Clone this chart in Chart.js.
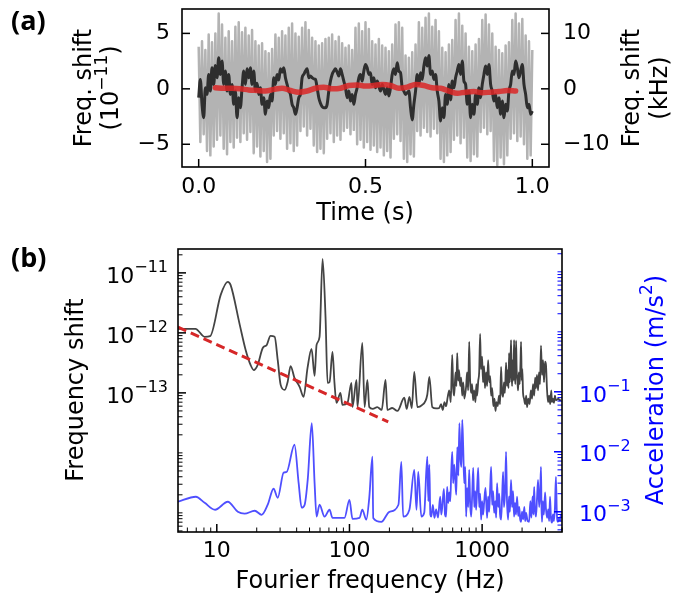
<!DOCTYPE html>
<html>
<head>
<meta charset="utf-8">
<script src="https://cdn.jsdelivr.net/npm/chart.js@4.4.1/dist/chart.umd.min.js"></script>
<style>
  body { margin: 0; background: #fff; }
  #wrap { position: relative; width: 684px; height: 599px; }
  canvas { position: absolute; left: 0; }
</style>
</head>
<body>
<div id="wrap">
  <canvas id="timeChart" width="684" height="230" style="top:0"></canvas>
  <canvas id="specChart" width="684" height="369" style="top:230px"></canvas>
</div>
<script>
// ---- panel (a): frequency shift vs time ----
const timeStep = 0.005; // s between samples of the raw and smoothed traces

// raw beat signal (10^-11), one sample every timeStep
const rawShift = [
  3.8, -4.8, 4.3, -4.1, 3.5, -5.6, 4.9, -6.0, 4.2, -5.2,
  5.0, -4.6, 6.8, -4.2, 5.8, -5.4, 4.6, -5.9, 5.2, -4.8,
  4.3, -5.3, 5.6, -4.4, 6.0, -4.8, 5.1, -4.0, 5.5, -4.6,
  4.8, -3.9, 5.3, -5.8, 4.3, -5.2, 3.9, -6.1, 4.1, -5.6,
  3.4, -6.6, 3.2, -6.3, 3.6, -4.2, 4.9, -3.8, 4.6, -4.5,
  5.2, -4.0, 4.8, -5.4, 5.5, -4.9, 5.9, -5.6, 5.0, -5.1,
  4.7, -3.8, 5.5, -3.4, 6.0, -4.2, 5.3, -3.6, 4.6, -5.1,
  4.3, -5.7, 3.9, -5.4, 4.1, -5.8, 4.5, -4.5, 4.6, -4.0,
  4.9, -4.8, 4.3, -4.2, 4.7, -4.6, 4.1, -3.8, 3.7, -3.5,
  3.9, -4.1, 3.5, -3.7, 5.5, -5.0, 5.9, -4.6, 5.2, -5.3,
  6.0, -4.8, 5.4, -5.5, 4.3, -5.1, 4.0, -5.7, 4.5, -5.3,
  3.9, -6.0, 3.7, -5.6, 3.4, -6.2, 4.0, -4.5, 5.8, -4.1,
  6.0, -4.7, 5.5, -6.3, 3.0, -6.6, 2.8, -5.9, 3.3, -6.1,
  4.0, -3.8, 6.0, -4.2, 5.5, -3.5, 6.4, -3.9, 6.8, -4.3,
  5.6, -3.6, 6.2, -4.0, 5.2, -6.3, 3.7, -6.6, 3.3, -6.0,
  4.0, -5.7, 4.4, -4.6, 6.2, -4.2, 6.8, -4.9, 5.7, -4.4,
  5.0, -6.2, 3.8, -6.5, 3.4, -5.9, 4.0, -6.1, 4.5, -3.9,
  6.2, -3.5, 6.7, -4.1, 5.8, -3.8, 5.0, -6.5, 3.8, -6.9,
  3.5, -6.2, 3.2, -6.8, 3.9, -6.0, 4.2, -4.5, 6.2, -4.0,
  6.8, -4.7, 5.9, -4.3, 6.3, -5.0, 4.8, -6.3, 4.3, -6.0,
  3.5
];

// low-pass filtered trace (10^-11), same time grid
const smoothShift = [
  -0.8, 0.85, -1.4, -2.6, 0.1, -0.5, 1.3, -0.2, 1.9, 0.4,
  2.1, 1.0, 2.8, 1.3, 2.5, 0.4, 1.6, -0.2, 1.3, -0.5,
  0.4, -1.4, -0.2, -2.6, -0.8, -1.7, 0.1, 1.6, 0.4, 1.8,
  1.0, 1.9, 0.4, 1.6, -0.2, 0.5, -0.5, 0.1, -1.4, -0.8,
  -2.3, -1.1, -1.7, -0.5, -1.1, 1.0, 0.4, 1.3, 0.8, 1.8,
  1.5, 1.9, 1.0, 0.4, -0.2, -0.5, -1.4, -1.7, -2.3, -1.7,
  -0.8, -0.5, 1.0, 1.3, 1.6, 1.8, 1.0, 1.15, 1.0, 0.9,
  0.85, 0.1, -0.8, -1.3, -1.6, -1.7, -1.7, -1.4, -0.2, 0.7,
  1.3, 1.6, 1.8, 1.5, 1.15, 1.8, 1.3, 0.7, 0.1, -0.8,
  -0.2, -1.1, -0.5, -1.4, -0.5, 0.1, 1.0, 1.3, 0.7, 1.6,
  2.2, 1.9, 1.3, 1.45, 0.4, 1.0, 0.1, 0.7, 0.25, -0.2,
  0.4, -0.05, -0.5, 0.1, -0.65, 0.1, 1.3, 1.8, 1.3, 2.35,
  1.6, 1.45, 0.1, -0.2, -0.5, -0.35, -0.2, -1.7, -2.8, -1.4,
  -0.2, 1.3, 0.4, 1.45, 0.85, 2.05, 2.8, 2.05, 3.0, 1.3,
  1.6, 0.85, 1.3, -0.2, -1.1, -2.9, -1.7, -2.6, -0.5, -1.4,
  0.4, -1.0, 0.7, 0.1, 1.0, 1.6, 2.2, 1.3, 2.5, 0.7,
  0.4, -1.4, -0.2, -2.6, -1.4, -2.3, -0.5, -1.4, 0.1, -0.8,
  0.4, 1.3, 2.05, 1.3, 2.2, 0.4, -0.2, -1.1, -0.5, -1.7,
  -0.8, -2.3, -1.1, -2.6, -1.4, -2.0, -0.2, 0.4, 1.6, 1.3,
  2.5, 1.9, 1.0, 1.6, 2.2, 0.4, -0.5, -1.7, -1.4, -2.3,
  -2.0
];

// moving average (red)
const avgTimes = [0.05, 0.075, 0.1, 0.125, 0.15, 0.175, 0.2, 0.225, 0.25, 0.275,
  0.3, 0.325, 0.35, 0.375, 0.4, 0.425, 0.45, 0.475, 0.5, 0.525,
  0.55, 0.575, 0.6, 0.625, 0.65, 0.675, 0.7, 0.725, 0.75, 0.775,
  0.8, 0.825, 0.85, 0.875, 0.9, 0.925, 0.95];
const avgShift = [0.1, 0.05, 0.05, 0.0, -0.1, -0.15, -0.2, -0.05, 0.05, -0.15,
  -0.3, -0.2, 0.05, 0.15, 0.0, 0.05, 0.3, 0.35, 0.25, 0.3,
  0.4, 0.3, 0.05, 0.15, 0.4, 0.3, 0.1, 0.05, -0.2, -0.4,
  -0.3, -0.25, -0.35, -0.3, -0.25, -0.15, -0.2];

const timeTicks = [0, 0.5, 1.0];
const timeLabels = ['0.0', '0.5', '1.0'];
const shiftTicks = [-5, 0, 5];
const shiftLabels = ['\u22125', '0', '5'];
const khzTicks = [-10, 0, 10];
const khzLabels = ['\u221210', '0', '10'];

// ---- panel (b): spectra ----
// [Fourier frequency (Hz), fractional frequency shift]
const shiftSpectrum = [
  [5.1, 1.17e-12], [6.9, 1.17e-12], [8.1, 8.6e-13], [8.9, 8.8e-13], [10.7, 4.3e-12],
  [12.1, 7.1e-12], [12.7, 6.3e-12], [14.9, 1.36e-12], [16.5, 5.2e-13], [18.0, 2.9e-13],
  [19.0, 2.4e-13], [20.3, 2.9e-13], [22.2, 5.6e-13], [23.8, 6.3e-13], [25.4, 8.9e-13],
  [27.3, 8.6e-13], [28.8, 3.5e-13], [30.3, 1.36e-13], [32.5, 1.12e-13], [34.2, 1.52e-13],
  [36.0, 2.8e-13], [38.5, 1.78e-13], [42.1, 1.26e-13], [45.1, 8.6e-14], [48.3, 2.6e-13],
  [51.8, 5.4e-13], [54.6, 1.92e-13], [56.5, 6.3e-13], [59.5, 8.6e-13], [62.7, 1.71e-11],
  [66.0, 1.85e-12], [68.4, 1.47e-13], [70.8, 1.52e-13], [74.5, 4.8e-13], [77.1, 1.47e-13],
  [79.8, 6.8e-14], [85.5, 1.0e-13], [88.5, 6.3e-14], [96.6, 6.8e-14], [103.5, 1.47e-13],
  [105.4, 5.8e-14], [113, 1.65e-13], [115, 5.8e-14], [125, 6.8e-13], [130, 5.8e-14],
  [136.5, 1.65e-13], [141, 5.8e-14], [150, 5.4e-14], [162, 5.8e-14], [175, 5.2e-14],
  [187, 1.65e-13], [193, 5.2e-14], [210, 5.6e-14], [230, 5.0e-14], [259, 8.3e-14],
  [270, 5.4e-14], [283, 8.6e-14], [295, 5.6e-14], [308, 2.24e-13], [325, 5.8e-14],
  [350, 6.2e-14], [386, 9.3e-14], [400, 1.85e-13], [421, 5.8e-14], [450, 5.5e-14],
  [475, 5.6e-14], [490, 6.5e-14], [505, 5.2e-14], [520, 7e-14], [535, 6e-14],
  [550, 8.5e-14], [565, 1.1e-13], [580, 7e-14], [595, 4.3e-13], [605, 1.2e-13],
  [616, 9e-14], [630, 2.2e-13], [640, 1.3e-13], [649, 4.6e-13], [660, 1.6e-13],
  [670, 2.4e-13], [683, 1.3e-13], [695, 1.8e-13], [708, 9e-14], [720, 1.5e-13],
  [735, 8e-14], [758, 1.3e-13], [770, 2.2e-13], [785, 1.1e-13], [799, 7.1e-13],
  [812, 1.6e-13], [827, 1.0e-13], [840, 1.4e-13], [855, 7.5e-14], [871, 1.1e-13],
  [890, 7e-14], [905, 1.4e-13], [917, 9e-14], [935, 1.6e-13], [950, 2.2e-13],
  [966, 9.6e-13], [980, 2.5e-13], [1000, 4.0e-13], [1015, 1.5e-13], [1035, 2.8e-13],
  [1050, 1.2e-13], [1072, 2.2e-13], [1090, 1.3e-13], [1110, 3.5e-13], [1130, 1.5e-13],
  [1150, 1.9e-13], [1169, 9e-14], [1190, 1.2e-13], [1215, 6e-14], [1240, 8e-14],
  [1260, 5e-14], [1285, 7e-14], [1310, 6e-14], [1340, 9e-14], [1365, 6.5e-14],
  [1390, 2.7e-13], [1410, 1.1e-13], [1439, 8.6e-14], [1460, 1.5e-13], [1485, 1e-13],
  [1515, 3.2e-13], [1540, 1.3e-13], [1560, 2.4e-13], [1580, 1.2e-13], [1596, 4.6e-13],
  [1615, 1.5e-13], [1635, 3e-13], [1652, 7.6e-13], [1668, 2e-13], [1682, 1.3e-13],
  [1700, 3.5e-13], [1720, 1.6e-13], [1741, 7.6e-13], [1760, 2.2e-13], [1780, 1.4e-13],
  [1803, 7.4e-13], [1820, 2.5e-13], [1845, 1.6e-13], [1866, 1.1e-13], [1890, 2.2e-13],
  [1920, 1.4e-13], [1945, 3e-13], [1965, 7.1e-13], [1990, 1.6e-13], [2010, 2.5e-13],
  [2034, 1e-13], [2070, 8e-14], [2110, 6.5e-14], [2150, 9e-14], [2180, 5.8e-14],
  [2230, 8e-14], [2280, 6.5e-14], [2330, 1.1e-13], [2377, 8e-14], [2420, 1.4e-13],
  [2470, 9e-14], [2510, 1.8e-13], [2547, 1.2e-13], [2590, 2.0e-13], [2640, 1.1e-13],
  [2683, 2.2e-13], [2730, 1.4e-13], [2778, 6.1e-13], [2830, 2e-13], [2880, 3.5e-13],
  [2927, 1.5e-13], [2980, 3.3e-13], [3030, 2.9e-13], [3080, 1.2e-13], [3137, 7e-14],
  [3200, 9e-14], [3260, 6.5e-14], [3320, 1.1e-13], [3361, 7e-14], [3420, 8e-14],
  [3480, 6.8e-14], [3540, 9e-14], [3600, 7.5e-14], [3664, 7.7e-14], [3750, 8e-14],
  [3850, 7.5e-14], [3926, 7.7e-14]
];

// [Fourier frequency (Hz), acceleration (m/s^2)]
const accSpectrum = [
  [5.1, 1.47e-3], [6.95, 1.78e-3], [8.1, 1.41e-3], [9.7, 1.08e-3], [12.1, 1.47e-3],
  [14.4, 1.0e-3], [16.2, 9.3e-4], [19.3, 1.04e-3], [21.8, 8.9e-4], [24.2, 1.31e-3],
  [26.8, 2.42e-3], [28.8, 1.71e-3], [31.9, 4.5e-3], [33.6, 4.6e-3], [38.5, 1.31e-2],
  [41.4, 3.0e-3], [43.6, 1.17e-3], [45.9, 1.3e-3], [48.5, 3.5e-3], [52, 3.0e-2],
  [54.6, 3.0e-3], [56.5, 8.3e-4], [59.5, 1.31e-3], [64.9, 8.3e-4], [70.8, 1.08e-3],
  [74.5, 7.9e-4], [91.7, 7.9e-4], [100, 1.58e-3], [105.4, 7.6e-4], [119, 7.9e-4],
  [125, 1.08e-3], [134, 7.4e-4], [141, 1.71e-3], [149, 8.3e-3], [151, 7.9e-4],
  [174, 6.8e-4], [200, 1.0e-3], [234, 1.31e-3], [246, 6.8e-3], [254, 8.3e-4],
  [283, 1.08e-3], [308, 5.0e-3], [320, 1.08e-3], [330, 4.6e-3], [348, 8.3e-4],
  [366, 9.6e-4], [386, 8.3e-3], [393, 1.5e-3], [400, 6.1e-3], [407, 9e-4],
  [414, 8.3e-4], [425, 1.3e-3], [437, 7.9e-4], [450, 1.1e-3], [465, 8e-4],
  [483, 1.78e-3], [492, 9e-4], [500, 1.17e-3], [515, 2.4e-3], [525, 9e-4],
  [535, 8.3e-4], [545, 2.6e-3], [555, 1.4e-3], [565, 2.1e-3], [575, 1.5e-3],
  [585, 4.5e-3], [595, 1.0e-2], [605, 3.0e-3], [616, 6.1e-3], [627, 3.5e-3],
  [638, 1.92e-3], [650, 1.2e-2], [662, 4e-3], [674, 3.0e-2], [686, 8e-3],
  [698, 5.6e-3], [708, 3.4e-2], [720, 1.2e-2], [733, 3e-3], [746, 5.6e-3],
  [758, 8.3e-4], [770, 2.5e-3], [785, 1.2e-3], [799, 5.0e-3], [813, 1.3e-3],
  [827, 8.3e-4], [842, 2e-3], [857, 5.4e-3], [872, 1.2e-3], [887, 2.2e-3],
  [901, 1.08e-3], [917, 2.5e-3], [934, 5.4e-3], [950, 1.2e-3], [966, 2e-3],
  [983, 7.4e-4], [1000, 1.5e-3], [1017, 9e-4], [1035, 1.41e-3], [1060, 2.5e-3],
  [1090, 7.9e-4], [1110, 1.8e-3], [1130, 1e-3], [1150, 2.5e-3], [1169, 5.6e-3],
  [1190, 1.3e-3], [1210, 2.2e-3], [1232, 9.6e-4], [1255, 1.5e-3], [1275, 8e-4],
  [1297, 3.0e-3], [1320, 1.2e-3], [1345, 2e-3], [1365, 9e-4], [1390, 7.4e-4],
  [1415, 1.8e-3], [1439, 4.6e-3], [1460, 1.2e-3], [1490, 2.2e-3], [1515, 1.0e-2],
  [1540, 1.5e-3], [1570, 7.4e-4], [1595, 1.8e-3], [1620, 1e-3], [1652, 3.4e-3],
  [1680, 1.2e-3], [1710, 2.2e-3], [1741, 8.3e-4], [1770, 1.4e-3], [1800, 9e-4],
  [1834, 1.78e-3], [1870, 8.5e-4], [1905, 1.2e-3], [1935, 7.5e-4], [1965, 6.8e-4],
  [2000, 1e-3], [2040, 7.5e-4], [2080, 1.2e-3], [2110, 7e-4], [2146, 9.6e-4],
  [2200, 7e-4], [2261, 6.8e-4], [2310, 1.5e-3], [2350, 8e-4], [2400, 1.8e-3],
  [2435, 9e-4], [2466, 2.6e-3], [2500, 1.1e-3], [2547, 8.3e-4], [2590, 1.6e-3],
  [2640, 3.4e-3], [2690, 1.2e-3], [2740, 2.2e-3], [2778, 5.6e-3], [2800, 1.3e-3],
  [2828, 6.8e-4], [2870, 1.5e-3], [2920, 9e-4], [2982, 2.1e-3], [3030, 1.1e-3],
  [3085, 7.9e-4], [3150, 1.1e-3], [3200, 7e-4], [3250, 1.78e-3], [3300, 8e-4],
  [3361, 6.6e-4], [3420, 9e-4], [3480, 7e-4], [3540, 1.2e-3], [3600, 3.8e-3],
  [3660, 9e-4], [3730, 6.8e-4], [3800, 8e-4], [3870, 7e-4], [3926, 9e-4], [3990, 8e-4]
];

// 1/f guide line
const fitFreq = [5.1, 196];
const fitShift = [1.25e-12, 3.3e-14];

const freqTicks = [10, 100, 1000];
const freqLabels = ['10', '100', '1000'];
const fracTicks = [1e-13, 1e-12, 1e-11];
const fracLabels = ['10^{\u221213}', '10^{\u221212}', '10^{\u221211}'];
const accTicks = [1e-3, 1e-2, 1e-1];
const accLabels = ['10^{\u22123}', '10^{\u22122}', '10^{\u22121}'];

const SANS = '"DejaVu Sans", sans-serif';
const BLUE = '#0000ff';

// draws "base^{sup}rest" with a raised, smaller superscript
function drawRich(ctx, str, x, y, size, align, color) {
  const m = str.match(/^(.*?)\^\{(.*?)\}(.*)$/);
  const a = m ? m[1] : str, sup = m ? m[2] : '', b = m ? m[3] : '';
  const big = size + 'px ' + SANS;
  const small = Math.round(size * 0.72) + 'px ' + SANS;
  ctx.font = big;
  const wa = ctx.measureText(a).width, wb = ctx.measureText(b).width;
  ctx.font = small;
  const ws = sup ? ctx.measureText(sup).width : 0;
  const w = wa + ws + wb;
  let x0 = x;
  if (align === 'right') x0 = x - w;
  else if (align === 'center') x0 = x - w / 2;
  ctx.fillStyle = color;
  ctx.textAlign = 'left';
  ctx.textBaseline = 'middle';
  ctx.font = big;
  ctx.fillText(a, x0, y);
  if (sup) {
    ctx.font = small;
    ctx.fillText(sup, x0 + wa, y - size * 0.4);
  }
  if (b) {
    ctx.font = big;
    ctx.fillText(b, x0 + wa + ws, y);
  }
}

function logMinors(lo, hi, majors) {
  const out = [];
  for (let e = Math.floor(Math.log10(lo)); e <= Math.ceil(Math.log10(hi)); e++) {
    for (let k = 1; k <= 9; k++) {
      const v = k * Math.pow(10, e);
      if (v < lo || v > hi) continue;
      if (majors.some(mj => Math.abs(mj - v) / mj < 1e-6)) continue;
      out.push(v);
    }
  }
  return out;
}

function drawAxis(chart, ax) {
  const ctx = chart.ctx, area = chart.chartArea, scale = chart.scales[ax.scale];
  const horiz = ax.side === 'bottom';
  const mark = (v, len, w) => {
    const p = scale.getPixelForValue(v);
    if (horiz ? (p < area.left || p > area.right) : (p < area.top || p > area.bottom)) return;
    ctx.beginPath();
    ctx.lineWidth = w;
    if (horiz) { ctx.moveTo(p, area.bottom); ctx.lineTo(p, area.bottom - len); }
    else if (ax.side === 'left') { ctx.moveTo(area.left, p); ctx.lineTo(area.left + len, p); }
    else { ctx.moveTo(area.right, p); ctx.lineTo(area.right - len, p); }
    ctx.stroke();
  };
  ctx.strokeStyle = ax.color;
  (ax.minor || []).forEach(v => mark(v, 4.5, 1));
  ax.values.forEach((v, i) => {
    mark(v, 8, 1.5);
    const p = scale.getPixelForValue(v);
    const dy = ax.dy || 0;
    if (horiz) drawRich(ctx, ax.labels[i], p, area.bottom + ax.pad, ax.size, 'center', ax.color);
    else if (ax.side === 'left') drawRich(ctx, ax.labels[i], area.left - ax.pad, p + dy, ax.size, 'right', ax.color);
    else drawRich(ctx, ax.labels[i], area.right + ax.pad, p + dy, ax.size, 'left', ax.color);
  });
}

function axisDecor(cfg) {
  return {
    id: 'axisDecor',
    afterDatasetsDraw(chart) {
      const ctx = chart.ctx, area = chart.chartArea;
      ctx.save();
      cfg.axes.forEach(ax => drawAxis(chart, ax));
      ctx.strokeStyle = '#000';
      ctx.lineWidth = 1.6;
      ctx.strokeRect(area.left, area.top, area.right - area.left, area.bottom - area.top);
      cfg.texts.forEach(t => {
        ctx.save();
        ctx.translate(t.x, t.y);
        if (t.rotate) ctx.rotate(-Math.PI / 2);
        if (t.panel) {
          ctx.font = 'bold 27px "Open Sans", sans-serif';
          ctx.fillStyle = '#000';
          ctx.textAlign = 'left';
          ctx.textBaseline = 'middle';
          ctx.fillText(t.text, 0, 0);
        } else {
          drawRich(ctx, t.text, 0, 0, t.size || 24, 'center', t.color || '#000');
        }
        ctx.restore();
      });
      ctx.restore();
    }
  };
}

const baseOptions = {
  responsive: false,
  animation: false,
  events: [],
  elements: { point: { radius: 0 }, line: { tension: 0, borderJoinStyle: 'round', fill: false } },
  plugins: { legend: { display: false }, tooltip: { enabled: false } }
};

// panel (a)
new Chart(document.getElementById('timeChart'), {
  type: 'line',
  data: {
    datasets: [
      { data: avgTimes.map((t, i) => ({ x: t, y: avgShift[i] })), cubicInterpolationMode: 'monotone',
        borderColor: 'rgba(218, 38, 38, 0.85)', borderWidth: 5.5, borderCapStyle: 'round', order: 0 },
      { data: smoothShift.map((v, i) => ({ x: i * timeStep, y: v })), cubicInterpolationMode: 'monotone',
        borderColor: '#2e2e2e', borderWidth: 3, order: 1 },
      { data: rawShift.map((v, i) => ({ x: i * timeStep, y: v })),
        borderColor: '#b3b3b3', borderWidth: 2.5, order: 2 }
    ]
  },
  options: Object.assign({}, baseOptions, {
    layout: { padding: { left: 182, right: 135, top: 9, bottom: 63 } },
    scales: {
      x: { type: 'linear', min: -0.05, max: 1.05, display: false },
      y: { type: 'linear', min: -7.05, max: 7.2, display: false },
      y2: { type: 'linear', position: 'right', min: -14.1, max: 14.4, display: false }
    }
  }),
  plugins: [axisDecor({
    axes: [
      { scale: 'x', side: 'bottom', values: timeTicks, labels: timeLabels, color: '#000', size: 22, pad: 20 },
      { scale: 'y', side: 'left', values: shiftTicks, labels: shiftLabels, color: '#000', size: 22, pad: 12 },
      { scale: 'y2', side: 'right', values: khzTicks, labels: khzLabels, color: '#000', size: 22, pad: 14 }
    ],
    texts: [
      { text: '(a)', x: 11, y: 22, panel: true },
      { text: 'Freq. shift', x: 85, y: 88, rotate: true },
      { text: '(10^{\u221211})', x: 112, y: 88, rotate: true },
      { text: 'Freq. shift', x: 633, y: 88, rotate: true },
      { text: '(kHz)', x: 661, y: 88, rotate: true },
      { text: 'Time (s)', x: 365, y: 214 }
    ]
  })]
});

// panel (b)
const fracMin = 4.8e-16, fracMax = 2.5e-11, accMin = 4.6e-4, accMax = 24;
new Chart(document.getElementById('specChart'), {
  type: 'line',
  data: {
    datasets: [
      { data: fitFreq.map((f, i) => ({ x: f, y: fitShift[i] })), yAxisID: 'y',
        borderColor: '#d62728', borderWidth: 3, borderDash: [9, 5], order: 0 },
      { data: shiftSpectrum.map(p => ({ x: p[0], y: p[1] })), yAxisID: 'y', cubicInterpolationMode: 'monotone',
        borderColor: '#444444', borderWidth: 1.8, order: 1 },
      { data: accSpectrum.map(p => ({ x: p[0], y: p[1] })), yAxisID: 'y2', cubicInterpolationMode: 'monotone',
        borderColor: '#4f4fff', borderWidth: 1.8, order: 2 }
    ]
  },
  options: Object.assign({}, baseOptions, {
    layout: { padding: { left: 178, right: 122, top: 19, bottom: 67 } },
    scales: {
      x: { type: 'logarithmic', min: 5.1, max: 4000, display: false },
      y: { type: 'logarithmic', min: fracMin, max: fracMax, display: false },
      y2: { type: 'logarithmic', position: 'right', min: accMin, max: accMax, display: false }
    }
  }),
  plugins: [axisDecor({
    axes: [
      { scale: 'x', side: 'bottom', values: freqTicks, labels: freqLabels,
        minor: logMinors(5.1, 4000, freqTicks), color: '#000', size: 22, pad: 19 },
      { scale: 'y', side: 'left', values: fracTicks, labels: fracLabels,
        minor: logMinors(fracMin, fracMax, fracTicks), color: '#000', size: 22, pad: 10, dy: 4 },
      { scale: 'y2', side: 'right', values: accTicks, labels: accLabels,
        minor: logMinors(accMin, accMax, accTicks), color: BLUE, size: 22, pad: 17, dy: 4 }
    ],
    texts: [
      { text: '(b)', x: 11, y: 29, panel: true },
      { text: 'Frequency shift', x: 77, y: 160, rotate: true },
      { text: 'Acceleration (m/s^{2})', x: 657, y: 160, rotate: true, color: BLUE },
      { text: 'Fourier frequency (Hz)', x: 370, y: 352 }
    ]
  })]
});
</script>
</body>
</html>
